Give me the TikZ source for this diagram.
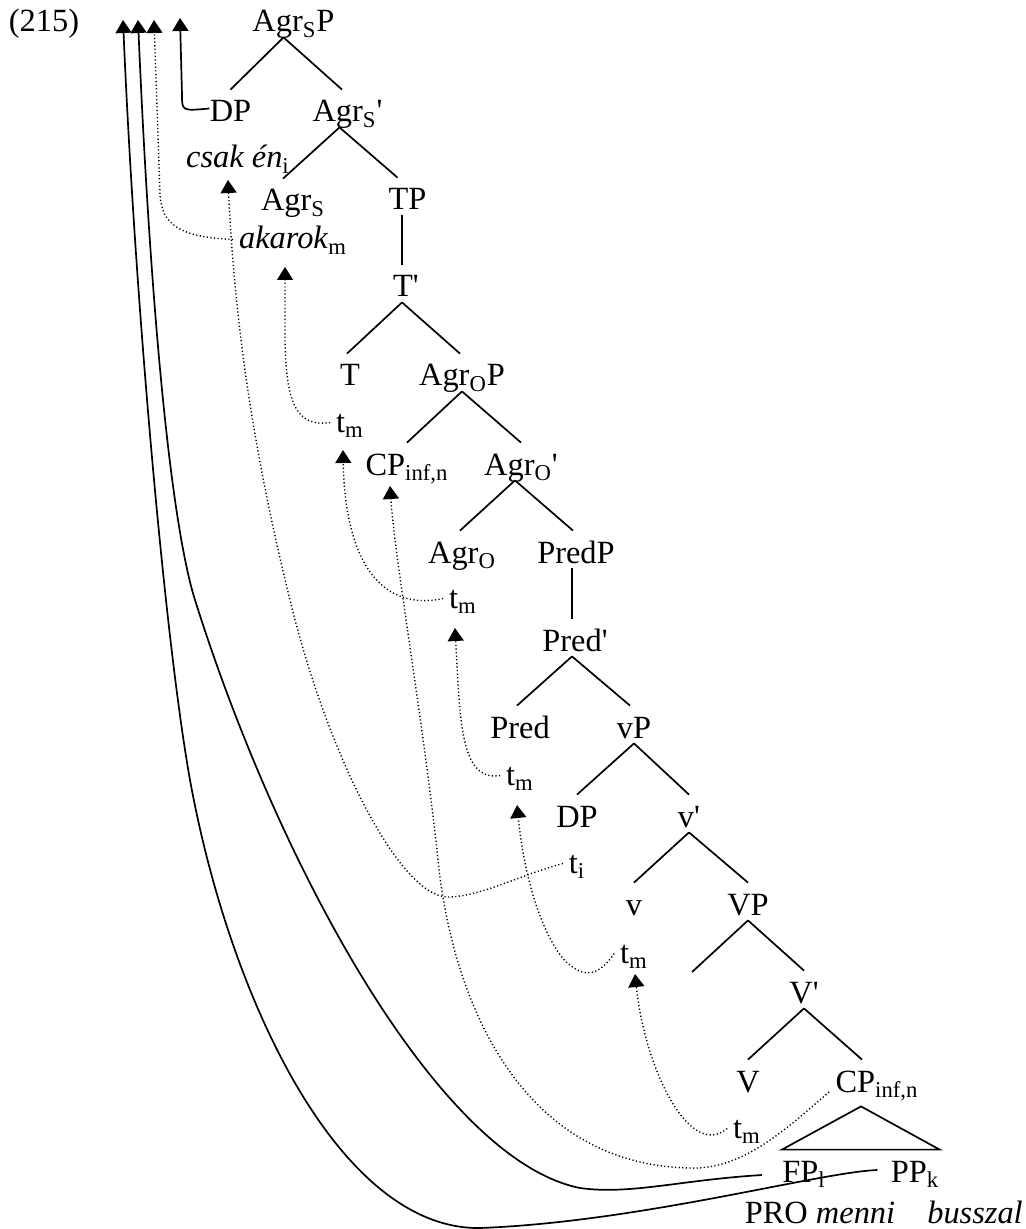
\documentclass[tikz,border=0pt]{standalone}
\usepackage{fontspec}
\setmainfont{Liberation Serif}
\usetikzlibrary{arrows.meta}
\newcommand{\prm}{\textquotesingle}

\begin{document}
\begin{tikzpicture}[
  x=0.5pt, y=-0.5pt,
  font=\fontsize{16.2}{19}\selectfont,
  cat/.style={inner sep=0pt, text height=16pt, text depth=2.5pt, anchor=base},
  trc/.style={inner sep=0pt, text height=12pt, text depth=2.5pt,
              outer xsep=3pt, anchor=base},
  branch/.style={line width=0.85pt},
  mvdot/.style={line width=0.7pt, dash pattern=on 0.6pt off 1.2pt,
                -{Triangle[width=8pt,length=6.5pt]}},
  mvline/.style={line width=0.85pt, -{Triangle[width=8pt,length=6.5pt]}}
]
\useasboundingbox (0,0) rectangle (1025,1229);

\node[cat] (ex)      at (44,32)    {(215)};
\node[cat] (agrsp)   at (293.5,32) {Agr\textsubscript{S}P};
\node[cat] (dpA)     at (230.5,122) {DP};
\node[cat] (agrsbar) at (347.5,122) {Agr\textsubscript{S}\prm};
\node[trc] (csak)    at (238,168)  {\textit{csak én}\textsubscript{i}};
\node[cat] (agrs)    at (293,211)  {Agr\textsubscript{S}};
\node[cat] (tp)      at (407.5,210) {TP};
\node[trc] (akarok)  at (293,249)  {\textit{akarok}\textsubscript{m}};
\node[cat] (tbar)    at (406,297)  {T\prm};
\node[cat] (t)       at (350,386)  {T};
\node[cat] (agrop)   at (462,386)  {Agr\textsubscript{O}P};
\node[trc] (tmT)     at (350,432)  {t\textsubscript{m}};
\node[cat] (cp1)     at (407,475)  {CP\textsubscript{inf,n}};
\node[cat] (agrobar) at (521,475)  {Agr\textsubscript{O}\prm};
\node[cat] (agro)    at (462,563)  {Agr\textsubscript{O}};
\node[cat] (predp)   at (576,563)  {PredP};
\node[trc] (tmAgrO)  at (463,608)  {t\textsubscript{m}};
\node[cat] (predbar) at (575,651)  {Pred\prm};
\node[cat] (pred)    at (520,738)  {Pred};
\node[cat] (vp)      at (634,738)  {vP};
\node[trc] (tmPred)  at (520,785)  {t\textsubscript{m}};
\node[cat] (dpB)     at (577,827)  {DP};
\node[cat] (vbar)    at (689,827)  {v\prm};
\node[trc] (ti)      at (577,873)  {t\textsubscript{i}};
\node[cat] (v)       at (634,915)  {v};
\node[cat] (bigvp)   at (748,915)  {VP};
\node[trc] (tmv)     at (634,963)  {t\textsubscript{m}};
\node[cat] (bigvbar) at (804,1003) {V\prm};
\node[cat] (bigv)    at (748,1092) {V};
\node[cat] (cp2)     at (877,1092) {CP\textsubscript{inf,n}};
\node[trc] (tmV)     at (747,1138) {t\textsubscript{m}};
\node[cat] (fp)      at (804,1182) {FP\textsubscript{l}};
\node[cat] (pp)      at (915,1182) {PP\textsubscript{k}};
\node[cat] (pro)     at (820,1223) {PRO \textit{menni}};
\node[cat] (bussz)   at (975,1223) {\textit{busszal}};

\coordinate (top1) at (123,20);
\coordinate (top2) at (138,20);
\coordinate (top3) at (154,20);
\coordinate (top4) at (180,18);
\coordinate (csakT) at (228,180);
\coordinate (akarokT) at (285,267);
\coordinate (tmTT) at (343,450);
\coordinate (cpT) at (390,486);
\coordinate (tmAgrOT) at (455,628);
\coordinate (tmPredT) at (517,805);
\coordinate (tmvT) at (635,974);
\coordinate (vpL) at (692,972);

\draw[branch] ([xshift=-5pt]agrsp.south) -- (dpA.north);
\draw[branch] ([xshift=-5pt]agrsp.south) -- ([xshift=-2.75pt]agrsbar.north);
\draw[branch] ([xshift=-4pt]agrsbar.south) -- ([xshift=-5pt]agrs.north);
\draw[branch] ([xshift=-4pt]agrsbar.south) -- ([xshift=-5pt]tp.north);
\draw[branch] ([xshift=-2.75pt]tp.south) -- ([xshift=-2pt]tbar.north);
\draw[branch] ([xshift=-2pt]tbar.south) -- ([xshift=-1.5pt]t.north);
\draw[branch] ([xshift=-2pt]tbar.south) -- ([xshift=-1pt]agrop.north);
\draw[branch] (agrop.south) -- (cp1.north);
\draw[branch] (agrop.south) -- (agrobar.north);
\draw[branch] ([xshift=-3pt]agrobar.south) -- ([xshift=-1pt]agro.north);
\draw[branch] ([xshift=-3pt]agrobar.south) -- ([xshift=-1.5pt]predp.north);
\draw[branch] ([xshift=-2pt]predp.south) -- ([xshift=-1.5pt]predbar.north);
\draw[branch] ([xshift=-1.5pt]predbar.south) -- ([xshift=-1.5pt]pred.north);
\draw[branch] ([xshift=-1.5pt]predbar.south) -- ([xshift=-2pt]vp.north);
\draw[branch] (vp.south) -- (dpB.north);
\draw[branch] (vp.south) -- (vbar.north);
\draw[branch] (vbar.south) -- (v.north);
\draw[branch] (vbar.south) -- (bigvp.north);
\draw[branch] (bigvp.south) -- (vpL);
\draw[branch] (bigvp.south) -- (bigvbar.north);
\draw[branch] (bigvbar.south) -- (bigv.north);
\draw[branch] (bigvbar.south) -- ([xshift=-7.5pt]cp2.north);
\draw[branch] ([xshift=-8pt,yshift=-4.5pt]cp2.south) -- (fp.north west)
  -- (pp.north east) -- cycle;

\draw[mvline] (dpA.west) .. controls (182,111) .. (182,95) -- (top4);
\draw[mvdot] (akarok.west) .. controls (180,237) and (162,225) .. (160,195) -- (top3);
\draw[mvdot] (tmT.west) .. controls (295,428) and (286,400) .. (285,340) -- (akarokT);
\draw[mvdot] (tmAgrO.west) .. controls (380,612) and (345,560) .. (tmTT);
\draw[mvdot] ([xshift=-3pt]cp2.base west) .. controls (790,1125) and (745,1170) .. (690,1168)
  .. controls (520,1165) and (450,1000) .. (437,850)
  .. controls (420,700) and (395,560) .. (cpT);
\draw[mvdot] (ti.west) .. controls (520,875) and (480,897) .. (447,897)
  .. controls (400,895) and (330,760) .. (292,608)
  .. controls (255,460) and (235,330) .. (csakT);
\draw[mvdot] (tmPred.west) .. controls (460,782) and (460,720) .. (tmAgrOT);
\draw[mvdot] (tmv.west) .. controls (600,975) and (585,978) .. (570,965)
  .. controls (555,955) and (527,905) .. (tmPredT);
\draw[mvdot] (tmV.west) .. controls (690,1160) and (645,1070) .. (tmvT);
\draw[mvline] ([xshift=-10pt,yshift=3.5pt]fp.base west) .. controls (680,1180) and (630,1195) .. (580,1188)
  .. controls (440,1160) and (280,870) .. (195,600)
  .. controls (170,520) and (150,300) .. (top2);
\draw[mvline] ([xshift=-6.5pt,yshift=6pt]pp.base west) .. controls (820,1172) and (640,1222) .. (480,1228)
  .. controls (340,1230) and (230,1000) .. (190,780)
  .. controls (165,640) and (135,300) .. (top1);
\end{tikzpicture}
\end{document}
